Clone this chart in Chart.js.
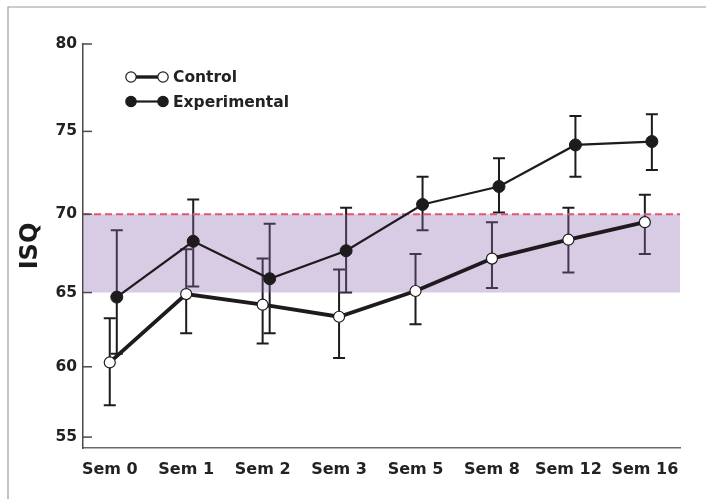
<!DOCTYPE html>
<html>
<head>
<meta charset="utf-8">
<script src="https://cdn.jsdelivr.net/npm/chart.js@4.4.0/dist/chart.umd.min.js"></script>
<style>
  html, body { margin: 0; padding: 0; background: #fff; }
  canvas { display: block; }
</style>
</head>
<body>
<canvas id="isq" width="706" height="499"></canvas>
<script>
// semanas y valores ISQ
const weeks = ["Sem 0", "Sem 1", "Sem 2", "Sem 3", "Sem 5", "Sem 8", "Sem 12", "Sem 16"];
const yTicks = [55, 60, 65, 70, 75, 80];

const control = [60.3, 64.9, 64.2, 63.4, 65.1, 67.2, 68.4, 69.5];
const controlLow = [57.3, 62.3, 61.6, 60.6, 62.9, 65.3, 66.3, 67.5];
const controlHigh = [63.3, 67.8, 67.2, 66.5, 67.5, 69.5, 70.4, 71.2];

const experimental = [64.7, 68.3, 65.9, 67.7, 70.6, 71.7, 74.2, 74.4];
const expLow = [60.9, 65.4, 62.3, 65.0, 69.0, 70.1, 72.3, 72.7];
const expHigh = [69.0, 70.9, 69.4, 70.4, 72.3, 73.4, 75.9, 76.0];

// banda de referencia
const bandLow = 65;
const bandHigh = 70;

const DODGE = 0.092; // desplazamiento del grupo experimental
const STRETCH = 92;  // el eje original no es lineal: se abre hacia arriba
const FONT = "'DejaVu Sans', sans-serif";
const INK = "#1d1b1e";

// escala lineal "estirada" para imitar el eje dibujado a mano
class StretchScale extends Chart.LinearScale {
  warp(v) {
    return Math.exp(v / STRETCH);
  }
  getPixelForValue(value) {
    if (value === null || isNaN(value)) return NaN;
    const a = this.warp(this.min);
    const b = this.warp(this.max);
    return this.getPixelForDecimal((this.warp(value) - a) / (b - a));
  }
  getValueForPixel(pixel) {
    const a = this.warp(this.min);
    const b = this.warp(this.max);
    return STRETCH * Math.log(a + this.getDecimalForPixel(pixel) * (b - a));
  }
}
StretchScale.id = "stretch";
StretchScale.defaults = Chart.LinearScale.defaults;
Chart.register(StretchScale);

const toPoints = (vals, shift) => vals.map((y, i) => ({ x: i + shift, y: y }));

// marco, banda, barras de error, ticks y leyenda
const extras = {
  id: "extras",
  beforeDraw(chart) {
    const ctx = chart.ctx;
    ctx.save();
    ctx.fillStyle = "#fff";
    ctx.fillRect(0, 0, chart.width, chart.height);
    ctx.strokeStyle = "#9a9a9a";
    ctx.lineWidth = 1.2;
    ctx.beginPath();
    ctx.moveTo(8, chart.height);
    ctx.lineTo(8, 7);
    ctx.lineTo(chart.width, 7);
    ctx.stroke();
    ctx.restore();
  },
  beforeDatasetsDraw(chart) {
    const ctx = chart.ctx;
    const xs = chart.scales.x;
    const ys = chart.scales.y;
    const area = chart.chartArea;
    ctx.save();
    // barras de error
    const groups = [
      [control, controlLow, controlHigh, 0],
      [experimental, expLow, expHigh, DODGE]
    ];
    ctx.strokeStyle = INK;
    ctx.lineWidth = 2;
    groups.forEach(([vals, lo, hi, shift]) => {
      vals.forEach((v, i) => {
        const x = xs.getPixelForValue(i + shift);
        const y1 = ys.getPixelForValue(lo[i]);
        const y2 = ys.getPixelForValue(hi[i]);
        ctx.beginPath();
        ctx.moveTo(x, y1);
        ctx.lineTo(x, y2);
        ctx.moveTo(x - 6, y1);
        ctx.lineTo(x + 6, y1);
        ctx.moveTo(x - 6, y2);
        ctx.lineTo(x + 6, y2);
        ctx.stroke();
      });
    });
    // banda lila translucida
    const top = ys.getPixelForValue(bandHigh);
    const bottom = ys.getPixelForValue(bandLow);
    ctx.fillStyle = "rgba(144, 106, 178, 0.35)";
    ctx.fillRect(area.left, top, area.right - area.left, bottom - top);
    ctx.strokeStyle = "#df566f";
    ctx.lineWidth = 2;
    ctx.setLineDash([7, 4]);
    ctx.beginPath();
    ctx.moveTo(area.left, top);
    ctx.lineTo(area.right, top);
    ctx.stroke();
    ctx.restore();
  },
  afterDraw(chart) {
    const ctx = chart.ctx;
    const ys = chart.scales.y;
    const area = chart.chartArea;
    ctx.save();
    // ticks hacia dentro
    ctx.strokeStyle = "#4a4a4a";
    ctx.lineWidth = 1.5;
    yTicks.forEach((t) => {
      const y = ys.getPixelForValue(t);
      ctx.beginPath();
      ctx.moveTo(area.left, y);
      ctx.lineTo(area.left + 9, y);
      ctx.stroke();
    });
    // leyenda
    const rows = [
      { label: chart.data.datasets[0].label, width: 3.4, fill: "#fff" },
      { label: chart.data.datasets[1].label, width: 2.2, fill: INK }
    ];
    const x0 = area.left + 48;
    const x1 = area.left + 80;
    rows.forEach((r, k) => {
      const y = area.top + 33 + k * 24.5;
      ctx.strokeStyle = INK;
      ctx.lineWidth = r.width;
      ctx.beginPath();
      ctx.moveTo(x0, y);
      ctx.lineTo(x1, y);
      ctx.stroke();
      [x0, x1].forEach((x) => {
        ctx.beginPath();
        ctx.arc(x, y, 5.2, 0, Math.PI * 2);
        ctx.fillStyle = r.fill;
        ctx.fill();
        ctx.lineWidth = 1.2;
        ctx.stroke();
      });
      ctx.fillStyle = "#222";
      ctx.font = "bold 15.5px " + FONT;
      ctx.textBaseline = "middle";
      ctx.textAlign = "left";
      ctx.fillText(r.label, x1 + 10, y + 1);
    });
    ctx.restore();
  }
};

new Chart(document.getElementById("isq"), {
  type: "line",
  data: {
    datasets: [
      {
        label: "Control",
        data: toPoints(control, 0),
        borderColor: INK,
        borderWidth: 3.8,
        pointRadius: 5.5,
        pointBorderWidth: 1.2,
        pointBackgroundColor: "#fff",
        pointBorderColor: INK,
        order: 0
      },
      {
        label: "Experimental",
        data: toPoints(experimental, DODGE),
        borderColor: INK,
        borderWidth: 2.2,
        pointRadius: 6,
        pointBorderWidth: 1,
        pointBackgroundColor: INK,
        pointBorderColor: INK,
        order: 1
      }
    ]
  },
  options: {
    responsive: false,
    animation: false,
    devicePixelRatio: 1,
    layout: { padding: { left: 0, top: 44, right: 26, bottom: 0 } },
    plugins: {
      legend: { display: false },
      tooltip: { enabled: false }
    },
    scales: {
      x: {
        type: "linear",
        min: -0.35,
        max: 7.46,
        afterBuildTicks: (s) => { s.ticks = weeks.map((_, i) => ({ value: i })); },
        afterFit: (s) => { s.height = 51; },
        grid: { display: false, drawTicks: false },
        border: { display: true, color: "#6a6a6a", width: 1.6 },
        ticks: {
          autoSkip: false,
          maxRotation: 0,
          padding: 12,
          color: "#222",
          font: { family: FONT, size: 16, weight: "bold" },
          callback: (v) => weeks[v]
        }
      },
      y: {
        type: "stretch",
        min: 54.2,
        max: 80,
        afterBuildTicks: (s) => { s.ticks = yTicks.map((v) => ({ value: v })); },
        afterFit: (s) => { s.width = 83; },
        grid: { display: false, drawTicks: false },
        border: { display: true, color: "#4a4a4a", width: 1.5 },
        ticks: {
          padding: 6,
          color: "#222",
          font: { family: FONT, size: 15.5, weight: "bold" }
        },
        title: {
          display: true,
          text: "ISQ",
          color: "#1a1a1a",
          padding: { top: 16 },
          font: { family: FONT, size: 24, weight: "bold" }
        }
      }
    }
  },
  plugins: [extras]
});
</script>
</body>
</html>
